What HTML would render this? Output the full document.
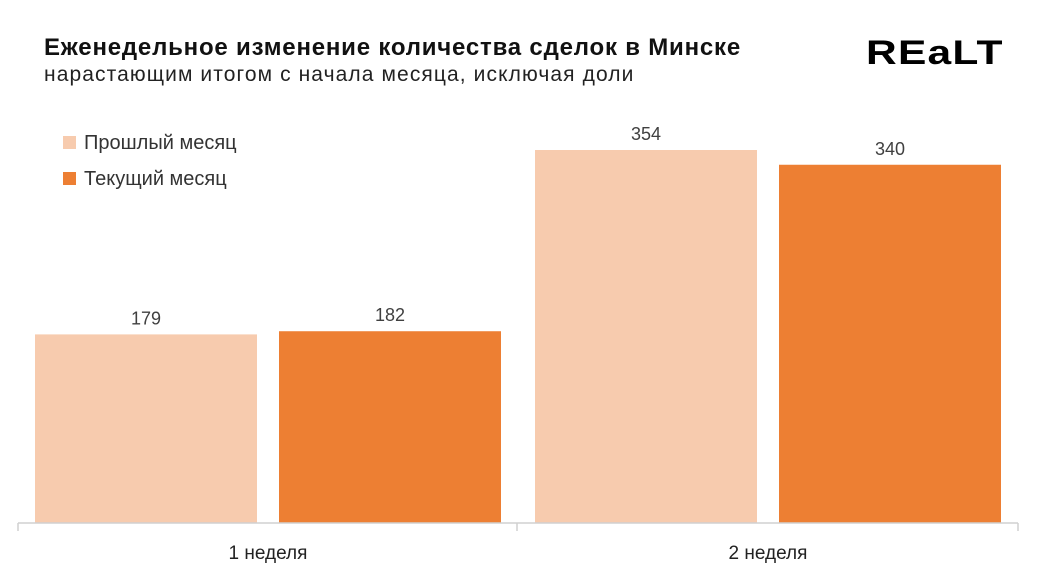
<!DOCTYPE html>
<html><head><meta charset="utf-8"><style>
body{margin:0;width:1056px;height:585px;background:#fff;font-family:"Liberation Sans",sans-serif;overflow:hidden;position:relative}
.t{position:absolute;left:44px;top:34px;font-size:24px;font-weight:bold;color:#111;letter-spacing:0.8px}
.s{position:absolute;left:44px;top:63px;font-size:21px;color:#222;letter-spacing:1.1px}
.logo{position:absolute;left:866px;top:34px;font-size:34px;font-weight:900;letter-spacing:1px;color:#000;transform:scaleX(1.25);transform-origin:left}
</style></head><body>
<div class="t">Еженедельное изменение количества сделок в Минске</div>
<div class="s">нарастающим итогом с начала месяца, исключая доли</div>
<div class="logo">REaLT</div>
<svg id="c" width="1056" height="585" style="position:absolute;left:0;top:0"></svg>
<script>
const categories=["1 неделя","2 неделя"];
const prevValues=[179,354];
const curValues=[182,340];
const seriesNames=["Прошлый месяц","Текущий месяц"];
const colors=["#f7cbae","#ed7f33"];
const svg=document.getElementById('c');const NS="http://www.w3.org/2000/svg";
const base=523,scale=373/354;
function y(v){return base-v*scale;}
function groupX(i){return 18+i*500;}
function mk(t,a){const e=document.createElementNS(NS,t);for(const k in a)e.setAttribute(k,a[k]);svg.appendChild(e);return e;}
categories.forEach((c,i)=>{
  const gx=groupX(i);
  [prevValues,curValues].forEach((arr,s)=>{
    const x=gx+17+s*244,w=222,v=arr[i];
    const r=mk('rect',{x:x,y:y(v),width:w,height:base-y(v),fill:colors[s]});
    
    
    const t=mk('text',{x:x+w/2,y:y(v)-10,'text-anchor':'middle','font-size':18,fill:'#404040','font-family':'Liberation Sans'});
    t.textContent=v;
    
    
  });
  const l=mk('text',{x:gx+250,y:559,'text-anchor':'middle','font-size':19,fill:'#222','font-family':'Liberation Sans'});
  l.textContent=c;
  
  
});
const ax=mk('path',{d:'M18 523H1018M18 523V531M517 523V531M1018 523V531',stroke:'#d0d0d0','stroke-width':1.5,fill:'none'});


seriesNames.forEach((n,s)=>{
  const r=mk('rect',{x:63,y:136+s*36,width:13,height:13,fill:colors[s]});
  
  
  const t=mk('text',{x:84,y:149+s*36,'font-size':20,fill:'#333','font-family':'Liberation Sans'});
  t.textContent=n;
  
  
});
</script>
</body></html>
